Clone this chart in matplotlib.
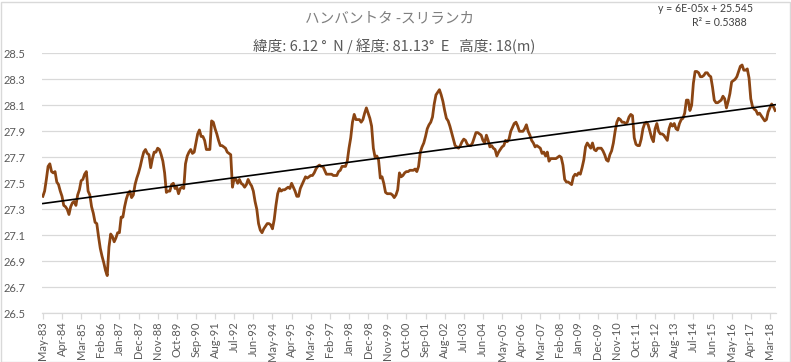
import numpy as np
import matplotlib
matplotlib.use("Agg")
import matplotlib.pyplot as plt
from matplotlib.patches import Rectangle

# ---------------- data ----------------
start_month = "May-83"
temps = [
    27.40, 27.44, 27.53, 27.63, 27.65, 27.59, 27.58, 27.59, 27.51, 27.49,
    27.44, 27.40, 27.33, 27.32, 27.30, 27.26, 27.32, 27.35, 27.36, 27.33,
    27.41, 27.45, 27.52, 27.53, 27.57, 27.59, 27.44, 27.41, 27.32, 27.27,
    27.20, 27.19, 27.09, 27.00, 26.94, 26.89, 26.83, 26.79, 27.01, 27.11,
    27.09, 27.05, 27.08, 27.12, 27.12, 27.24, 27.24, 27.32, 27.38, 27.42,
    27.44, 27.39, 27.41, 27.49, 27.54, 27.58, 27.63, 27.69, 27.74, 27.76,
    27.73, 27.72, 27.62, 27.69, 27.74, 27.74, 27.77, 27.76, 27.72, 27.67,
    27.58,
    27.43, 27.44, 27.44, 27.49, 27.50, 27.46, 27.47, 27.42, 27.46, 27.47,
    27.46, 27.65, 27.71, 27.74, 27.76, 27.73, 27.74, 27.81, 27.88, 27.91,
    27.86, 27.86, 27.83, 27.76, 27.76, 27.76, 27.98, 27.97, 27.92, 27.88,
    27.83, 27.79, 27.79, 27.78, 27.77, 27.74, 27.73, 27.72, 27.47, 27.54,
    27.53, 27.50, 27.53, 27.50, 27.49, 27.47, 27.49, 27.53, 27.50, 27.48,
    27.44, 27.36, 27.30, 27.19, 27.14, 27.12, 27.15, 27.17, 27.19, 27.19,
    27.18, 27.15, 27.22, 27.33, 27.42, 27.46, 27.44, 27.45, 27.45, 27.46,
    27.47,
    27.46, 27.50, 27.47, 27.44, 27.40, 27.40, 27.46, 27.49,
    27.52, 27.55, 27.54, 27.55, 27.56, 27.56, 27.58, 27.61, 27.63, 27.64,
    27.63, 27.63, 27.60, 27.57, 27.57, 27.57, 27.57, 27.56, 27.56, 27.56,
    27.59, 27.60, 27.63, 27.63, 27.63, 27.67, 27.77, 27.85, 27.97, 28.03,
    27.99, 27.99, 27.99, 27.97, 27.99, 28.04, 28.08, 28.04, 28.00, 27.94,
    27.77, 27.70, 27.71, 27.68, 27.54, 27.55, 27.50, 27.43, 27.42, 27.42,
    27.42, 27.41, 27.39, 27.41, 27.45, 27.58, 27.55, 27.56, 27.58, 27.59,
    27.59, 27.60, 27.60, 27.60,
    27.61, 27.59, 27.63, 27.74, 27.78, 27.81,
    27.86, 27.92, 27.95, 27.97, 28.01, 28.11, 28.18, 28.20, 28.22, 28.18,
    28.13, 28.06, 28.00, 27.98, 27.94, 27.89, 27.84, 27.79, 27.78, 27.77,
    27.79, 27.82, 27.84, 27.83, 27.80, 27.79, 27.79, 27.81, 27.85, 27.89,
    27.89, 27.88, 27.87, 27.83, 27.81, 27.87, 27.83, 27.78, 27.79, 27.77,
    27.76, 27.71, 27.74, 27.76, 27.78, 27.79, 27.83, 27.82, 27.84, 27.90,
    27.93, 27.96, 27.97, 27.94, 27.90, 27.90, 27.90, 27.92, 27.95, 27.90,
    27.87, 27.83, 27.81, 27.78, 27.79, 27.78,
    27.77, 27.73, 27.74, 27.71,
    27.74, 27.67, 27.69, 27.69, 27.69, 27.69, 27.70, 27.71, 27.70, 27.64,
    27.53, 27.51, 27.51, 27.50, 27.49, 27.55, 27.57, 27.56, 27.58, 27.57,
    27.62, 27.68, 27.78, 27.81, 27.79, 27.77, 27.81, 27.76, 27.75, 27.77,
    27.77, 27.77, 27.75, 27.72, 27.68, 27.67, 27.72, 27.75, 27.81, 27.90,
    27.97, 28.00, 27.99, 27.97, 27.97, 27.96, 27.97, 28.01, 28.03, 28.02,
    27.85, 27.80, 27.79, 27.79, 27.84, 27.92, 27.96, 27.97, 27.95, 27.90,
    27.85, 27.82, 27.92, 27.96, 27.90,
    27.88, 27.88, 27.87, 27.85, 27.83,
    27.92, 27.96, 27.94, 27.96, 27.92, 27.91, 27.96, 27.99, 28.00, 28.04,
    28.14, 28.14, 28.06, 28.10, 28.27, 28.36, 28.36, 28.35, 28.32, 28.32,
    28.33, 28.35, 28.35, 28.33, 28.32, 28.24, 28.14, 28.12, 28.12, 28.13,
    28.14, 28.17, 28.15, 28.08, 28.13, 28.19, 28.28, 28.29, 28.30, 28.32,
    28.36, 28.40, 28.41, 28.37, 28.37, 28.38, 28.31, 28.15, 28.09, 28.07,
    28.06, 28.03, 28.04, 28.02, 28.00, 27.98, 27.99, 28.05, 28.08, 28.11,
    28.09, 28.06,
]

tick_labels = [
    "May-83", "Apr-84", "Mar-85", "Feb-86", "Jan-87", "Dec-87", "Nov-88",
    "Oct-89", "Sep-90", "Aug-91", "Jul-92", "Jun-93", "May-94", "Apr-95",
    "Mar-96", "Feb-97", "Jan-98", "Dec-98", "Nov-99", "Oct-00", "Sep-01",
    "Aug-02", "Jul-03", "Jun-04", "May-05", "Apr-06", "Mar-07", "Feb-08",
    "Jan-09", "Dec-09", "Nov-10", "Oct-11", "Sep-12", "Aug-13", "Jul-14",
    "Jun-15", "May-16", "Apr-17", "Mar-18",
]
tick_step = 11  # months between labels

y_ticks = [26.5, 26.7, 26.9, 27.1, 27.3, 27.5, 27.7, 27.9, 28.1, 28.3, 28.5]

title1 = "ハンバントタ -スリランカ"
title2 = "緯度: 6.12 °  N / 経度: 81.13°  E   高度: 18(m)"
eq_text = "y = 6E-05x + 25.545"
r2_text = "R² = 0.5388"

# ---------------- plot ----------------
W, H = 791, 362
fig = plt.figure(figsize=(W / 100, H / 100), dpi=100)
fig.patch.set_facecolor("white")

left, right, top, bottom = 42, 776, 53.3, 313.3
ax = fig.add_axes([left / W, 1 - bottom / H, (right - left) / W, (bottom - top) / H])

x = np.arange(len(temps))
y = np.array(temps)

ax.plot(x, y, color="#8B4513", lw=2.0, solid_joinstyle="round", zorder=3)

# linear trend line (least squares on the data)
coef = np.polyfit(x, y, 1)
ax.plot([x[0], x[-1]], np.polyval(coef, [x[0], x[-1]]), color="black", lw=1.2, zorder=4)

ax.set_xlim(-0.5, len(temps) - 0.5)
ax.set_ylim(y_ticks[0], y_ticks[-1])
ax.set_yticks(y_ticks)
ax.set_yticklabels([f"{v:.1f}" for v in y_ticks])
ax.yaxis.grid(True, color="#d9d9d9", lw=0.9)
ax.set_axisbelow(True)

ax.set_xticks(np.arange(len(tick_labels)) * tick_step)
ax.set_xticklabels(tick_labels, rotation=90)

for s in ("top", "right", "left"):
    ax.spines[s].set_visible(False)
ax.spines["bottom"].set_color("#d9d9d9")
ax.spines["bottom"].set_linewidth(0.9)

ax.tick_params(axis="y", length=0, pad=12, labelsize=8, labelcolor="#595959")
ax.tick_params(axis="x", length=4, color="#d9d9d9", width=0.9, pad=2,
               labelsize=8, labelcolor="#595959")
for lbl in ax.get_xticklabels() + ax.get_yticklabels():
    lbl.set_fontfamily(["Lato", "DejaVu Sans"])

cjk = ["Noto Sans CJK JP", "DejaVu Sans"]
fig.text(390 / W, 1 - 18 / H, title1, ha="center", va="center",
         fontsize=10.5, color="#7f7f7f", family=cjk)
fig.text(394 / W, 1 - 46 / H, title2, ha="center", va="center",
         fontsize=10.5, color="#595959", family=cjk)
fig.text(705 / W, 1 - 9 / H, eq_text, ha="center", va="center",
         fontsize=7.6, color="#404040", family=["Lato", "DejaVu Sans"])
fig.text(719 / W, 1 - 23 / H, r2_text, ha="center", va="center",
         fontsize=7.6, color="#404040", family=["Lato", "DejaVu Sans"])

fig.patches.append(Rectangle((0.5 / W, 0.5 / H), (W - 2) / W, (H - 2) / H,
                             transform=fig.transFigure, fill=False,
                             edgecolor="#d9d9d9", lw=1.0))

fig.savefig("out.png", dpi=100)
